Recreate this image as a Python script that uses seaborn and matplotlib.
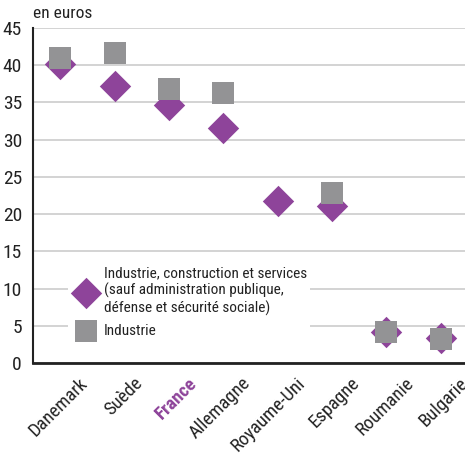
import numpy as np
import pandas as pd
import matplotlib
matplotlib.use("Agg")
import matplotlib.pyplot as plt
import seaborn as sns

pays = ['Danemark', 'Suède', 'France', 'Allemagne', 'Royaume-Uni',
        'Espagne', 'Roumanie', 'Bulgarie']
ensemble = [40.1, 37.2, 34.6, 31.6, 21.8, 21.1, 4.1, 3.4]
industrie = [41.0, 41.7, 36.8, 36.3, np.nan, 22.9, 4.2, 3.2]

label_ens = ("Industrie, construction et services\n"
             "(sauf administration publique,\n"
             "défense et sécurité sociale)")
label_ind = "Industrie"

purple = "#8e449a"
gray = "#939395"

sns.set_style("white")
plt.rcParams['font.family'] = ['Roboto Condensed', 'DejaVu Sans']
plt.rcParams['text.color'] = '#222222'
plt.rcParams['xtick.color'] = '#222222'
plt.rcParams['ytick.color'] = '#222222'

df = pd.DataFrame({'pays': pays, 'ens': ensemble, 'ind': industrie})
df['x'] = np.arange(len(pays))

fig = plt.figure(figsize=(4.65, 4.58), dpi=100)
ax = fig.add_axes([33 / 465, 1 - 363 / 458, 435 / 465, 335 / 458])

sns.scatterplot(data=df, x='x', y='ens', marker='D', s=16 ** 2,
                color=purple, linewidth=0, ax=ax, label=label_ens, zorder=3)
sns.scatterplot(data=df.dropna(), x='x', y='ind', marker='s', s=16 ** 2,
                color=gray, linewidth=0, ax=ax, label=label_ind, zorder=4)

ax.set_xlim(-0.5, len(pays) - 0.5)
ax.set_ylim(0, 45)
ax.set_yticks(range(0, 50, 5))
ax.yaxis.grid(True, color="#cccccc", linewidth=1.2)
ax.set_axisbelow(True)
ax.set_xlabel("")
ax.set_ylabel("")

# tick marks close each category, the names hang just left of them
ax.set_xticks(np.arange(len(pays)) + 0.5)
ax.set_xticklabels([])
ax.set_xticks(np.arange(len(pays)) + 0.34, minor=True)
ax.set_xticklabels(pays, minor=True, rotation=45, ha='right',
                   rotation_mode='anchor', fontsize=13.5)
for lab in ax.get_xticklabels(minor=True):
    if lab.get_text() == 'France':
        lab.set_color(purple)
        lab.set_fontweight('bold')
ax.tick_params(axis='x', which='major', length=4, width=1.2, color='#222222')
ax.tick_params(axis='x', which='minor', length=0, pad=8)
ax.tick_params(axis='y', length=0, labelsize=14, pad=8)

for s in ['top', 'right']:
    ax.spines[s].set_visible(False)
ax.spines['left'].set_linewidth(1.5)
ax.spines['bottom'].set_linewidth(2)
ax.spines['left'].set_color('#222222')
ax.spines['bottom'].set_color('#222222')

leg = ax.legend(loc='upper left', bbox_to_anchor=(0.062, 0.32), frameon=True,
                fontsize=11, handletextpad=0.15, borderpad=0.2,
                labelspacing=0.5, markerscale=1.0)
leg.get_frame().set_facecolor('white')
leg.get_frame().set_edgecolor('none')
leg.get_frame().set_alpha(1)

fig.text(33 / 465, 1 - 14 / 458, "en euros", fontsize=12.5, va='center')

plt.savefig("out.png", dpi=100)
